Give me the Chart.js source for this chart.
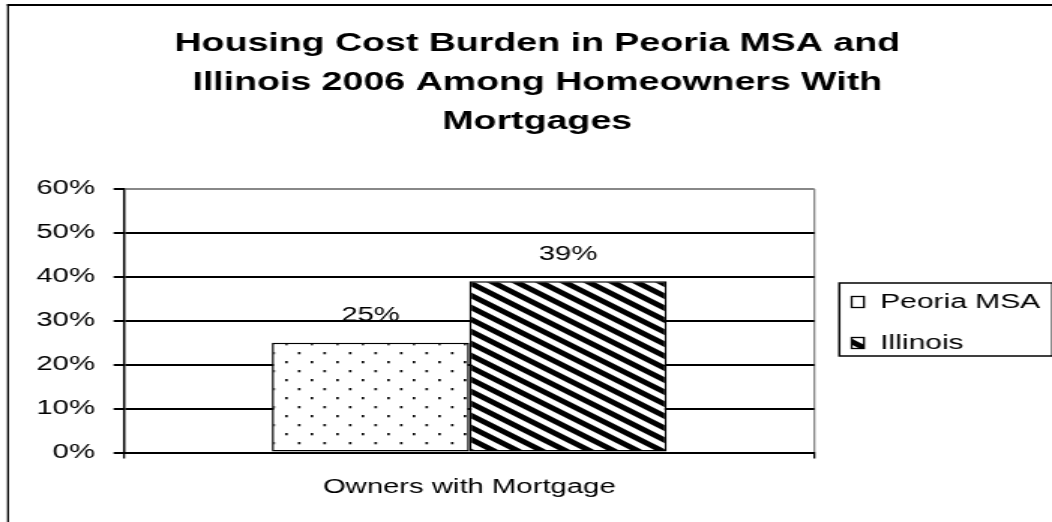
<!DOCTYPE html>
<html>
<head>
<meta charset="utf-8">
<title>Housing Cost Burden</title>
<script src="https://cdn.jsdelivr.net/npm/chart.js@4.4.0/dist/chart.umd.min.js"></script>
<style>
  html, body { margin: 0; padding: 0; background: #fff; overflow: hidden; }
  #burden { display: block; }
</style>
</head>
<body>
<!-- drawn at 701 wide and stretched to 1052 like the old Excel export -->
<canvas id="burden" width="701" height="522" style="width:1052px;height:522px"></canvas>
<script>
// housing cost burden, owners with a mortgage, 2006
const categories = ['Owners with Mortgage'];
const seriesNames = ['Peoria MSA', 'Illinois'];
const peoriaValues = [25];
const illinoisValues = [39];
const yTicks = [0, 10, 20, 30, 40, 50, 60];

const titleLines = ['Housing Cost Burden in Peoria MSA and', 'Illinois 2006 Among Homeowners With', 'Mortgages'];
const FONT = '"Liberation Sans", Arial, sans-serif';

// fill patterns
function dotPattern() {
  const t = document.createElement('canvas');
  t.width = 17; t.height = 18;
  const g = t.getContext('2d');
  g.fillStyle = '#fff';
  g.fillRect(0, 0, 17, 18);
  g.fillStyle = '#111';
  g.fillRect(3, 1, 1.7, 2.3);
  g.fillRect(11.5, 10, 1.7, 2.3);
  return g.createPattern(t, 'repeat');
}

function stripePattern() {
  const t = document.createElement('canvas');
  t.width = 16; t.height = 12;
  const g = t.getContext('2d');
  g.fillStyle = '#fff';
  g.fillRect(0, 0, 16, 12);
  g.strokeStyle = '#000';
  g.lineWidth = 4.8;
  for (let k = -1; k <= 1; k++) {
    g.beginPath();
    g.moveTo(-16, -12 + k * 12);
    g.lineTo(32, 24 + k * 12);
    g.stroke();
  }
  return g.createPattern(t, 'repeat');
}

const dots = dotPattern();
const stripes = stripePattern();

const frame = {
  id: 'frame',
  beforeDraw(chart) {
    const c = chart.ctx;
    c.save();
    c.fillStyle = '#fff';
    c.fillRect(0, 0, chart.width, chart.height);
    c.fillStyle = '#000';
    c.fillRect(4.7, 4, 1.3, chart.height);
    c.fillRect(4.7, 4, chart.width, 2);
    c.restore();
  }
};

const valueLabels = {
  id: 'valueLabels',
  afterDatasetsDraw(chart) {
    const c = chart.ctx;
    c.save();
    c.font = '19.5px ' + FONT;
    c.fillStyle = '#000';
    c.textAlign = 'center';
    c.textBaseline = 'middle';
    chart.data.datasets.forEach((ds, i) => {
      chart.getDatasetMeta(i).data.forEach((bar, j) => {
        c.fillText(ds.data[j] + '%', bar.x, bar.y - 27);
      });
    });
    c.restore();
  }
};

const boxedLegend = {
  id: 'boxedLegend',
  afterDraw(chart) {
    const c = chart.ctx;
    const x0 = chart.chartArea.right + 16.6;
    const rows = [302, 343];
    c.save();
    c.strokeStyle = '#000';
    c.lineWidth = 1.5;
    c.strokeRect(x0, 283, 142, 73);
    c.font = '20px ' + FONT;
    c.textBaseline = 'middle';
    chart.data.datasets.forEach((ds, i) => {
      const y = rows[i];
      c.fillStyle = i === 0 ? '#fff' : stripes;
      c.fillRect(x0 + 8.2, y - 5.5, 8.2, 11);
      c.lineWidth = 1.3;
      c.strokeRect(x0 + 8.2, y - 5.5, 8.2, 11);
      c.fillStyle = '#000';
      c.fillText(ds.label, x0 + 27.2, y);
    });
    c.restore();
  }
};

new Chart(document.getElementById('burden'), {
  type: 'bar',
  data: {
    labels: categories,
    datasets: [{
      label: seriesNames[0],
      data: peoriaValues,
      backgroundColor: dots,
      borderColor: '#000',
      borderWidth: 1.5,
      borderSkipped: false
    }, {
      label: seriesNames[1],
      data: illinoisValues,
      backgroundColor: stripes,
      borderColor: '#000',
      borderWidth: 1.5,
      borderSkipped: false
    }]
  },
  options: {
    responsive: false,
    animation: false,
    devicePixelRatio: 1,
    categoryPercentage: 0.572,
    barPercentage: 1,
    layout: { padding: { left: 15, right: 0, top: 0, bottom: 6 } },
    plugins: {
      legend: { display: false },
      tooltip: { enabled: false },
      title: {
        display: true,
        text: titleLines,
        color: '#000',
        font: { family: FONT, size: 25, weight: 'bold', lineHeight: 1.56 },
        padding: { top: 24.5, bottom: 47.5 }
      }
    },
    scales: {
      x: {
        offset: true,
        grid: {
          offset: true,
          color: '#888',
          tickColor: '#000',
          lineWidth: 1.3,
          tickLength: 6
        },
        border: { color: '#000', width: 2 },
        ticks: { color: '#000', padding: 17, font: { family: FONT, size: 19.5 } }
      },
      y: {
        min: 0,
        max: 60,
        afterBuildTicks(scale) {
          scale.ticks = yTicks.map(v => ({ value: v }));
        },
        afterFit(scale) { scale.width = 67.7; },
        grid: {
          color: ctx => (ctx.tick && ctx.tick.value === 60 ? '#888' : '#000'),
          tickColor: '#000',
          lineWidth: 2,
          tickLength: 7
        },
        border: { color: '#000', width: 1.4 },
        ticks: {
          color: '#000',
          padding: 12.4,
          font: { family: FONT, size: 19.5 },
          callback: v => v + '%'
        }
      },
      // keeps room on the right for the boxed legend
      legendRoom: {
        type: 'linear',
        position: 'right',
        display: true,
        grid: { display: false },
        border: { display: false },
        ticks: { display: false },
        afterFit(scale) { scale.width = 158.3; }
      }
    }
  },
  plugins: [frame, valueLabels, boxedLegend]
});
</script>
</body>
</html>
